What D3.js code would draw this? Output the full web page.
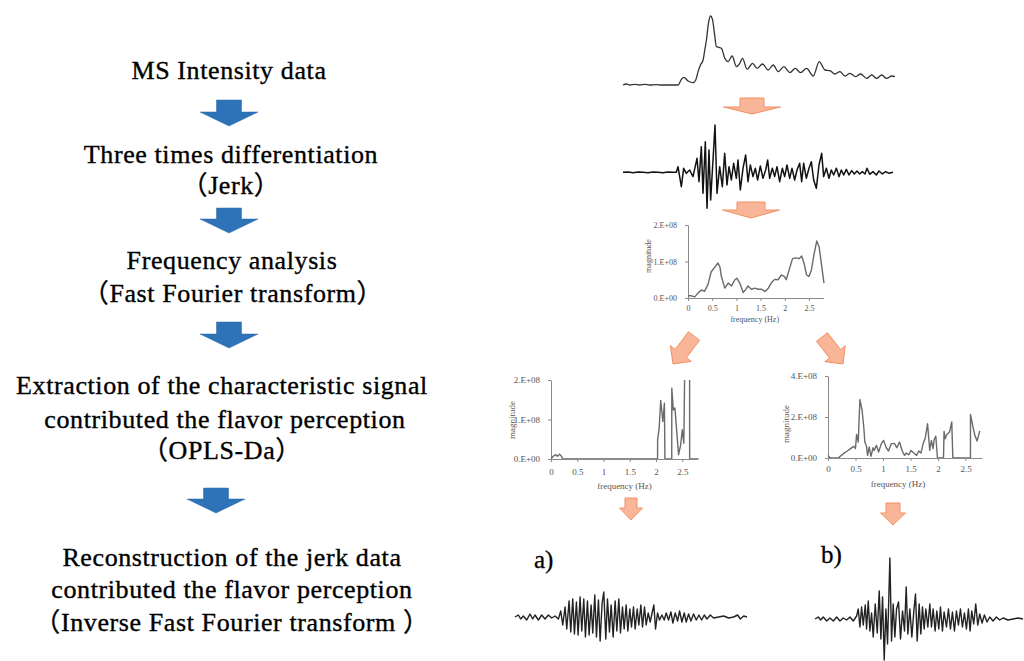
<!DOCTYPE html>
<html lang="en">
<head>
<meta charset="utf-8">
<title>D3: jerk / FFT workflow</title>
<script src="https://d3js.org/d3.v7.min.js"></script>
<style>
  body { margin: 0; background: #fff; }
  .step { font-family: "Liberation Serif", "Noto Sans CJK JP", serif; font-size: 26px; letter-spacing: 0.6px; fill: #000; stroke: #000; stroke-width: 0.35px; }
  .tick text, .axlab { font-family: "Liberation Serif", serif; fill: #555; }
  .tag { font-family: "Liberation Serif", serif; font-size: 25px; fill: #000; stroke: #000; stroke-width: 0.3px; }
</style>
</head>
<body>
<svg id="fig" width="1024" height="661"></svg>
<script>
// workflow text, one array per step
var steps = [
  ["MS Intensity data"],
  ["Three times differentiation", "（Jerk）"],
  ["Frequency analysis", "（Fast Fourier transform）"],
  ["Extraction of the characteristic signal", "contributed the flavor perception", "（OPLS-Da）"],
  ["Reconstruction of the jerk data", "contributed the flavor perception", "（Inverse Fast Fourier transform ）"]
];

// MS intensity trace (arbitrary time, arbitrary intensity)
var msTime = [40,50,60,75,90,105,120,140,155,175,205,215,222,235,250,258,265,272,280,285,290,296,302,308,314,320,328,335,345,355,367,380,390,398,412,428,442,458,475,490,505,522,540,556,572,590,610,628,645,660,675,690,705,720,737,752,770,785,800,815,830,845,855];
var msIntensity = [0,3,0,2,0,2,0,1,0,0,0,17,23,12,7,15,40,60,75,105,135,185,207,197,155,115,113,110,80,70,87,55,65,80,47,65,50,63,45,60,40,55,37,50,37,50,27,70,45,43,33,40,27,35,25,33,20,30,20,30,20,27,25];

// jerk (third derivative)
var jerkTime = [40,55,70,85,100,115,130,145,160,175,190,200,205,215,222,230,240,250,262,268,275,280,287,292,298,303,310,316,322,330,338,345,352,358,365,372,380,385,392,400,408,415,422,430,437,444,452,460,468,474,480,488,495,502,510,518,525,532,540,547,555,562,570,576,582,590,598,605,612,620,628,636,642,650,658,665,672,680,688,695,702,710,718,726,734,742,750,758,766,772,780,790,800,808,818,828,838,850];
var jerkValue = [0,1,-1,1,0,-1,1,0,-1,1,0,0,17,-43,12,-3,7,-13,42,-28,77,-63,92,-108,67,-83,37,142,-63,17,-43,57,-38,17,-23,27,-18,37,-53,12,52,-28,22,-13,12,-23,19,-18,7,37,-18,12,-13,17,-28,12,-13,22,-18,12,-23,7,27,-28,27,-18,12,32,-23,-48,22,57,-13,12,-18,7,-8,12,-13,7,-8,9,-8,5,-5,4,-5,2,-5,12,-6,2,-8,4,-5,2,-3,0];

// FFT of the jerk (magnitude in 1e8)
var fftFreq = [0,0.07,0.14,0.21,0.28,0.34,0.41,0.48,0.55,0.62,0.66,0.69,0.76,0.83,0.90,0.97,1.01,1.07,1.14,1.19,1.24,1.31,1.38,1.45,1.52,1.59,1.66,1.72,1.79,1.86,1.93,1.99,2.03,2.09,2.16,2.23,2.30,2.35,2.40,2.45,2.50,2.55,2.60,2.66,2.71,2.76,2.81];
var fftMag = [0.06,0.06,0.03,0.14,0.22,0.18,0.36,0.72,0.84,0.96,0.85,0.59,0.27,0.41,0.33,0.50,0.54,0.41,0.15,0.23,0.33,0.24,0.27,0.24,0.24,0.18,0.27,0.41,0.51,0.50,0.63,0.59,0.50,0.77,1.08,1.10,1.08,1.15,0.94,0.63,0.59,0.77,1.17,1.56,1.40,0.90,0.41];

// extracted spectrum a)
var freqA = [0,0.04,0.09,0.12,0.16,0.20,0.22,2.03,2.031,2.06,2.09,2.13,2.16,2.17,2.30,2.301,2.33,2.36,2.40,2.43,2.47,2.50,2.53,2.55,2.64,2.641,2.81];
var magA = [0,0.07,0.11,0.07,0.12,0.07,0,0,0.49,0.78,1.48,0.95,1.41,0,0,1.79,1.24,1.29,0.61,0.11,0.36,0.74,0.40,2.6,2.6,0,0];

// extracted spectrum b)
var freqB = [0,0.04,0.19,0.22,0.28,0.35,0.41,0.47,0.50,0.52,0.55,0.58,0.62,0.65,0.67,0.70,0.72,0.75,0.78,0.82,0.84,0.88,0.92,0.97,1.01,1.06,1.10,1.15,1.21,1.25,1.30,1.35,1.39,1.42,1.47,1.51,1.56,1.61,1.65,1.69,1.73,1.77,1.81,1.85,1.88,1.91,1.93,1.96,1.99,2.10,2.11,2.13,2.16,2.21,2.25,2.27,2.59,2.591,2.63,2.67,2.71,2.76];
var magB = [0.13,0,0,0.08,0.21,0.34,0.46,0.57,0.46,1.15,0.78,2.85,2.33,1.51,0.78,0.57,0.13,0.54,0.08,0.50,0.37,0.62,0.29,0.70,0.86,0.50,0.34,0.70,0.70,0.50,0.78,0.34,0.13,0.24,0.16,0.37,0.24,0.13,0.34,0.24,0.70,0.99,1.67,0.37,0.86,0.46,0.89,1.06,0,0,1.30,0.94,1.15,1.27,1.76,0,0,2.13,1.59,1.11,0.83,1.32];

// reconstructed jerk a)
var recTimeA = [45,55,62,70,80,90,98,105,115,125,135,145,155,165,175,182,188,195,200,207,212,218,223,229,234,240,245,251,256,262,267,273,278,284,289,295,300,306,311,317,322,328,333,339,345,350,356,361,367,372,378,383,389,394,400,405,411,416,422,427,433,438,444,450,455,461,466,472,478,485,492,498,505,512,518,525,532,538,545,552,558,565,572,580,588,596,604,612,620,630,640,655,670,685,700,712,720,730,740];
var recValA = [0,2,-2,1,-3,3,-2,2,-3,2,-2,2,-1,1,-2,6,-8,10,-12,16,-15,18,-17,15,-18,20,-14,18,-20,16,-18,12,-16,22,-20,17,-24,14,25,-22,18,-15,12,-20,16,-14,18,-16,10,-12,12,-14,8,-10,10,-12,8,-8,12,-10,10,-8,4,-5,3,12,-12,4,-3,2,-3,4,-3,5,-6,4,-4,6,-5,4,-5,3,-4,3,-3,2,-3,2,-2,2,-1,0,1,-1,0,2,-2,1,0];

// reconstructed jerk b)
var recTimeB = [75,85,92,100,110,120,130,140,150,160,170,180,190,200,205,210,215,220,226,230,235,240,245,250,256,262,268,273,278,283,288,293,300,305,310,315,320,326,332,338,344,349,354,360,366,372,377,382,388,393,398,403,408,414,420,425,430,436,441,447,452,458,463,470,476,482,488,494,500,506,512,518,524,530,536,541,546,552,558,564,570,577,584,592,600,610,620,630,640,655,670,685,700];
var recValB = [0,2,-1,2,-2,1,-2,2,-2,1,-1,2,-2,3,10,-8,12,-6,14,-10,18,-12,6,-18,15,-14,28,-20,22,-41,10,-25,61,-22,15,-18,10,17,-20,8,-12,32,-15,10,-18,8,25,-22,15,-15,12,-10,10,-8,15,-8,10,-12,8,-10,12,-12,7,-8,10,-10,7,-12,8,-6,10,-8,6,-10,10,-12,8,-5,15,-6,5,-4,4,-3,2,-2,2,-1,1,-1,0,1,0];

var freqTicks = [0, 0.5, 1, 1.5, 2, 2.5];
var magTicks = [0, 1, 2];
var magTicksB = [0, 2, 4];

var svg = d3.select("#fig");
svg.append("rect").attr("width", 1024).attr("height", 661).attr("fill", "#fff");

// ---- left column: text + blue arrows
var lineTops = [[79], [163, 194], [269, 302], [394, 428, 459], [566, 598, 631]];
var lineX = [[229], [231, 231], [232, 233], [222, 225, 222], [232, 232, 232]];
steps.forEach(function(lines, i) {
  lines.forEach(function(t, j) {
    svg.append("text").attr("class", "step")
      .attr("x", lineX[i][j]).attr("y", lineTops[i][j])
      .attr("text-anchor", "middle").text(t);
  });
});

function arrowPath(tail, tip, shaftW, headW, headL) {
  var dx = tip[0] - tail[0], dy = tip[1] - tail[1], len = Math.hypot(dx, dy);
  var ux = dx / len, uy = dy / len, px = -uy, py = ux;
  var bx = tip[0] - ux * headL, by = tip[1] - uy * headL;
  var pts = [
    [tail[0] + px * shaftW / 2, tail[1] + py * shaftW / 2],
    [bx + px * shaftW / 2, by + py * shaftW / 2],
    [bx + px * headW / 2, by + py * headW / 2],
    tip,
    [bx - px * headW / 2, by - py * headW / 2],
    [bx - px * shaftW / 2, by - py * shaftW / 2],
    [tail[0] - px * shaftW / 2, tail[1] - py * shaftW / 2]
  ];
  return d3.line()(pts) + "Z";
}

var blueArrows = [[[229, 100], [229, 126]], [[229, 208], [229, 233]], [[229, 322], [229, 348]], [[216, 488], [216, 513]]];
blueArrows.forEach(function(a) {
  svg.append("path").attr("d", arrowPath(a[0], a[1], 25, 58, 14))
    .attr("fill", "#2e73b8").attr("stroke", "#2a68a8").attr("stroke-width", 0.5);
});

var orangeArrows = [
  [[752, 98], [752, 114], 24, 57, 7],
  [[751, 202], [751, 218], 28, 57, 8],
  [[694, 336], [673, 364], 14, 26, 13],
  [[822, 337], [843, 364], 14, 26, 13],
  [[631, 498], [631, 520], 12, 23, 12],
  [[893, 503], [893, 525], 14, 25, 12]
];
orangeArrows.forEach(function(a) {
  svg.append("path").attr("d", arrowPath(a[0], a[1], a[2], a[3], a[4]))
    .attr("fill", "#f9b597").attr("stroke", "#f39166").attr("stroke-width", 1);
});

// ---- signal traces
function trace(xs, ys, xDom, xRange, yDom, yRange, color, width, curve) {
  var x = d3.scaleLinear().domain(xDom).range(xRange);
  var y = d3.scaleLinear().domain(yDom).range(yRange);
  var line = d3.line().x(function(d) { return x(d[0]); }).y(function(d) { return y(d[1]); }).curve(curve);
  svg.append("path").datum(d3.zip(xs, ys)).attr("d", line)
    .attr("fill", "none").attr("stroke", color).attr("stroke-width", width).attr("stroke-linejoin", "round");
}

trace(msTime, msIntensity, [40, 855], [623, 895], [0, 207], [85, 16], "#333", 1.3, d3.curveMonotoneX);
trace(jerkTime, jerkValue, [40, 850], [623, 893], [-108, 142], [208.3, 125], "#111", 1.5, d3.curveLinear);
trace(recTimeA, recValA, [45, 740], [515, 747], [-25, 25], [642, 592], "#222", 1.4, d3.curveLinear);
trace(recTimeB, recValB, [75, 700], [815, 1023], [-41, 61], [660, 558], "#222", 1.4, d3.curveLinear);

svg.append("text").attr("class", "tag").attr("x", 534).attr("y", 568).text("a)");
svg.append("text").attr("class", "tag").attr("x", 821).attr("y", 563).text("b)");

// ---- spectrum charts
function magFormat(v) { return v === 0 ? "0.E+00" : v + ".E+08"; }

function spectrum(id, freq, mag, cfg) {
  var x = d3.scaleLinear().domain([0, 2.8]).range([cfg.x0, cfg.x1]);
  var y = d3.scaleLinear().domain([0, cfg.ymax]).range([cfg.y0, cfg.y1]);
  var g = svg.append("g");
  svg.append("clipPath").attr("id", id).append("rect")
    .attr("x", cfg.x0).attr("y", cfg.y1).attr("width", cfg.x1 - cfg.x0 + 6).attr("height", cfg.y0 - cfg.y1);

  var xa = g.append("g").attr("transform", "translate(0," + cfg.y0 + ")")
    .call(d3.axisBottom(x).tickValues(freqTicks).tickFormat(d3.format("")).tickSize(3).tickSizeOuter(0).tickPadding(cfg.pad));
  var ya = g.append("g").attr("transform", "translate(" + cfg.x0 + ",0)")
    .call(d3.axisLeft(y).tickValues(cfg.ticks).tickFormat(magFormat).tickSize(3).tickSizeOuter(0).tickPadding(cfg.ypad));
  [xa, ya].forEach(function(a) {
    a.selectAll("path, line").attr("stroke", "#8a8a8a");
    a.selectAll("text").style("font-size", cfg.fs + "px");
  });

  g.append("path").datum(d3.zip(freq, mag))
    .attr("clip-path", "url(#" + id + ")")
    .attr("d", d3.line().x(function(d) { return x(d[0]); }).y(function(d) { return y(d[1]); }))
    .attr("fill", "none").attr("stroke", "#6a6a6a").attr("stroke-width", 1.4).attr("stroke-linejoin", "round");

  g.append("text").attr("class", "axlab").attr("x", (cfg.x0 + cfg.x1) / 2 + cfg.lx).attr("y", cfg.ly)
    .attr("text-anchor", "middle").style("font-size", cfg.fs + "px").text("frequency (Hz)");
  g.append("text").attr("class", "axlab")
    .attr("transform", "translate(" + cfg.mx + "," + cfg.my + ") rotate(-90)")
    .attr("text-anchor", "middle").style("font-size", cfg.fs + "px").text("magnitude");
}

spectrum("c1", fftFreq, fftMag, { x0: 688, x1: 823.5, y0: 298, y1: 225, ymax: 2, ticks: magTicks, pad: 4, ypad: 8, fs: 8, lx: -1, ly: 322, mx: 651, my: 256 });
spectrum("c2", freqA, magA, { x0: 551, x1: 698, y0: 459, y1: 380, ymax: 2, ticks: magTicks, pad: 7, ypad: 8, fs: 9, lx: 0, ly: 489, mx: 515, my: 420 });
spectrum("c3", freqB, magB, { x0: 828, x1: 982, y0: 458, y1: 376, ymax: 4, ticks: magTicksB, pad: 5, ypad: 8, fs: 9, lx: -7, ly: 487, mx: 789, my: 424 });
</script>
</body>
</html>
